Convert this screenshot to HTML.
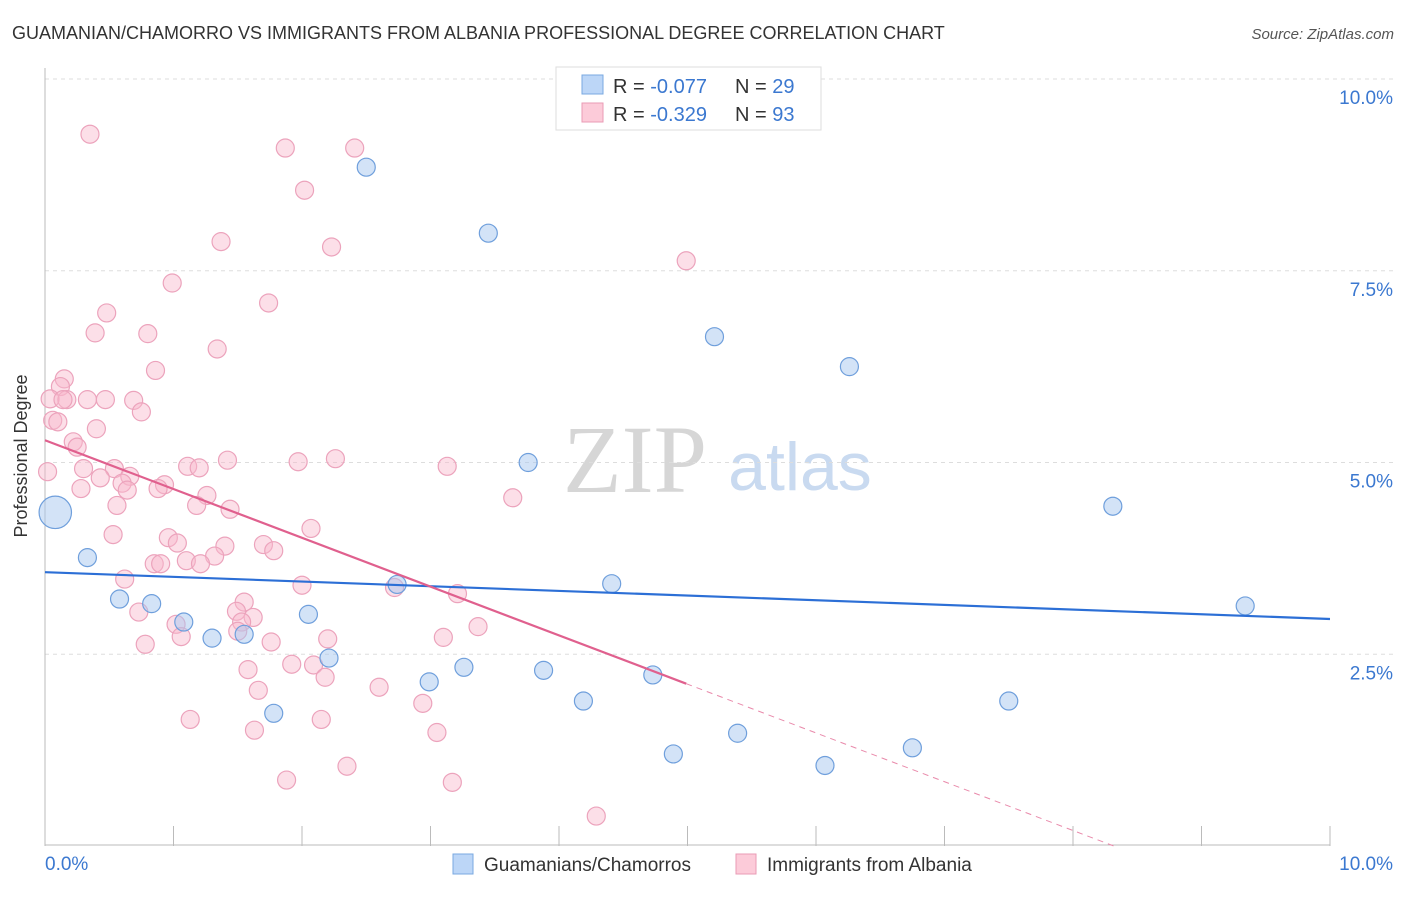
<!DOCTYPE html>
<html><head><meta charset="utf-8"><style>
body{margin:0;background:#fff;font-family:"Liberation Sans",sans-serif;}
svg text{font-family:"Liberation Sans",sans-serif;}
</style></head><body>
<svg id="chart" width="1406" height="892">
<text x="12" y="39" font-size="18" fill="#333">GUAMANIAN/CHAMORRO VS IMMIGRANTS FROM ALBANIA PROFESSIONAL DEGREE CORRELATION CHART</text>
<text x="1394" y="39" font-size="15" fill="#555" text-anchor="end" font-style="italic">Source: ZipAtlas.com</text>
<g>
<text x="635" y="492" font-size="96" fill="#d6d6d6" text-anchor="middle" font-family="Liberation Serif" style="font-family:'Liberation Serif',serif">ZIP</text>
<text x="800" y="490" font-size="68" fill="#c9daf0" text-anchor="middle">atlas</text>
</g>
<g id="grid"></g>
<g id="axes"></g>
<g id="lines"></g>
<g id="points"></g>
<text x="27" y="456" font-size="18" fill="#333" text-anchor="middle" transform="rotate(-90 27 456)">Professional Degree</text>
<g>
<rect x="556" y="67" width="265" height="63" fill="#fff" stroke="#ddd"/>
<rect x="582" y="75" width="21" height="19" fill="#bcd6f7" stroke="#7aa8e0"/>
<rect x="582" y="103" width="21" height="19" fill="#fccbd9" stroke="#ea9bb5"/>
<text x="613" y="93" font-size="20" fill="#333">R = <tspan fill="#3b78d0">-0.077</tspan></text>
<text x="735" y="93" font-size="20" fill="#333">N = <tspan fill="#3b78d0">29</tspan></text>
<text x="613" y="121" font-size="20" fill="#333">R =  <tspan fill="#3b78d0">-0.329</tspan></text>
<text x="735" y="121" font-size="20" fill="#333">N = <tspan fill="#3b78d0">93</tspan></text>
</g>
<g>
<rect x="453" y="854" width="20" height="20" fill="#bcd6f7" stroke="#7aa8e0"/>
<text x="484" y="871" font-size="19" fill="#333">Guamanians/Chamorros</text>
<rect x="736" y="854" width="20" height="20" fill="#fccbd9" stroke="#ea9bb5"/>
<text x="767" y="871" font-size="19" fill="#333">Immigrants from Albania</text>
</g>
</svg>
<script>
const yTicks=[2.5,5.0,7.5,10.0];
const yTickLabels=["2.5%","5.0%","7.5%","10.0%"];
const xTicks=[0,1,2,3,4,5,6,7,8,9,10];
const xEndLabels=["0.0%","10.0%"];
const blueX=[2.50,3.45,5.21,6.26,3.76,8.31,0.08,0.33,4.41,2.74,0.58,0.83,9.34,2.05,1.08,1.30,1.55,2.21,3.26,3.88,4.73,2.99,4.19,7.50,1.78,5.39,6.75,4.89,6.07];
const blueY=[8.85,7.99,6.64,6.25,5.00,4.43,4.35,3.76,3.42,3.41,3.22,3.16,3.13,3.02,2.92,2.71,2.76,2.45,2.33,2.29,2.23,2.14,1.89,1.89,1.73,1.47,1.28,1.20,1.05];
const blueSize=[1,1,1,1,1,1,1.8,1,1,1,1,1,1,1,1,1,1,1,1,1,1,1,1,1,1,1,1,1,1];
const pinkX=[0.35,1.87,2.41,2.02,1.37,2.23,4.99,0.99,1.74,0.48,0.39,0.80,1.34,0.86,0.15,0.12,0.04,0.17,0.33,0.47,0.69,0.75,0.06,0.10,0.40,0.22,0.25,1.42,1.97,2.26,3.13,1.11,1.20,0.30,0.54,0.02,0.66,0.43,0.60,0.28,0.93,0.88,0.64,1.26,3.64,1.18,0.56,1.44,2.07,0.53,0.96,1.03,1.70,1.40,1.78,1.32,0.85,0.90,1.10,1.21,0.62,2.00,2.72,3.21,1.55,1.49,1.62,0.73,1.53,1.02,3.37,1.50,1.06,3.10,2.20,1.76,0.78,1.58,1.92,2.09,2.18,1.66,2.60,2.94,1.13,2.15,1.63,3.05,2.35,1.88,3.17,4.29,0.14];
const pinkY=[9.28,9.10,9.10,8.55,7.88,7.81,7.63,7.34,7.08,6.95,6.69,6.68,6.48,6.20,6.09,5.99,5.83,5.82,5.82,5.82,5.81,5.66,5.55,5.53,5.44,5.27,5.20,5.03,5.01,5.05,4.95,4.95,4.93,4.92,4.92,4.88,4.82,4.80,4.73,4.66,4.71,4.66,4.64,4.57,4.54,4.44,4.44,4.39,4.14,4.06,4.02,3.95,3.93,3.91,3.85,3.78,3.68,3.68,3.72,3.68,3.48,3.40,3.37,3.29,3.18,3.06,2.98,3.05,2.92,2.89,2.86,2.80,2.73,2.72,2.70,2.66,2.63,2.30,2.37,2.36,2.20,2.03,2.07,1.86,1.65,1.65,1.51,1.48,1.04,0.86,0.83,0.39,5.82];
const blueFit=[3.57,2.96];
const pinkFit=[5.29,2.11];
const X0=45,X1=1330,Y0=846,Y10=79;
const sx=v=>X0+(X1-X0)*v/10;
const sy=v=>Y0-(Y0-Y10)*v/10;
const NS="http://www.w3.org/2000/svg";
function mk(tag,attrs,parent){const e=document.createElementNS(NS,tag);for(const k in attrs)e.setAttribute(k,attrs[k]);document.getElementById(parent).appendChild(e);return e;}
yTicks.forEach((t,i)=>{
 const g=mk('line',{x1:X0,x2:1394,y1:sy(t),y2:sy(t),stroke:'#ddd','stroke-dasharray':'4,4'},'grid');
 
 
 const tx=mk('text',{x:1393,y:sy(t)+25,'font-size':19,fill:'#3b78d0','text-anchor':'end'},'grid');
 tx.textContent=yTickLabels[i];
 
 
});
const ax=mk('line',{x1:X0,x2:X0,y1:68,y2:Y0,stroke:'#bbb'},'axes');


const bx=mk('line',{x1:X0,x2:X1,y1:Y0-1,y2:Y0-1,stroke:'#bbb'},'axes');


xTicks.forEach(t=>{
 const l=mk('line',{x1:sx(t),x2:sx(t),y1:826,y2:Y0,stroke:'#bbb'},'axes');
 
 
});
const xl0=mk('text',{x:45,y:870,'font-size':19,fill:'#3b78d0'},'axes');
xl0.textContent=xEndLabels[0];


const xl1=mk('text',{x:1393,y:870,'font-size':19,fill:'#3b78d0','text-anchor':'end'},'axes');
xl1.textContent=xEndLabels[1];


pinkX.forEach((x,i)=>{
 const c=mk('circle',{cx:sx(x),cy:sy(pinkY[i]),r:9,fill:'rgba(248,184,205,0.45)',stroke:'#eca3bc','stroke-width':1.2},'points');
 
 
});
blueX.forEach((x,i)=>{
 const c=mk('circle',{cx:sx(x),cy:sy(blueY[i]),r:9*blueSize[i],fill:'rgba(168,200,240,0.5)',stroke:'#6f9fdc','stroke-width':1.2},'points');
 
 
});
const pmax=Math.max(...pinkX);
const pAt=x=>pinkFit[0]+(pinkFit[1]-pinkFit[0])*x/5;
const bl=mk('line',{x1:sx(0),y1:sy(blueFit[0]),x2:sx(10),y2:sy(blueFit[1]),stroke:'#2c6fd6','stroke-width':2.2},'points');


const pl=mk('line',{x1:sx(0),y1:sy(pAt(0)),x2:sx(pmax),y2:sy(pAt(pmax)),stroke:'#e0608e','stroke-width':2.2},'points');


const xz=-pinkFit[0]*5/(pinkFit[1]-pinkFit[0]);
const xe=Math.min(10,xz);
const pd=mk('line',{x1:sx(pmax),y1:sy(pAt(pmax)),x2:sx(xe),y2:sy(pAt(xe)),stroke:'#e98aab','stroke-width':1,'stroke-dasharray':'6,5'},'points');


</script>
</body></html>
